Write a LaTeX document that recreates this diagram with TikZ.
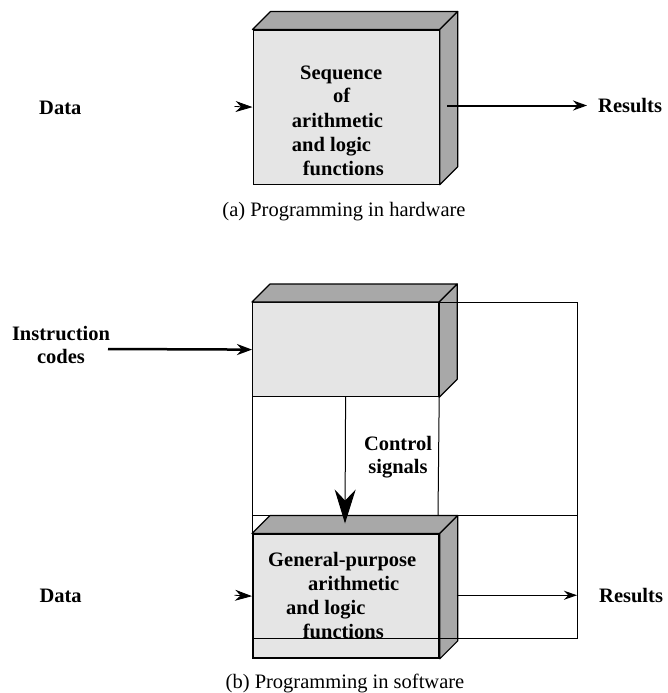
\documentclass[tikz,border=0pt]{standalone}
\usepackage{fontspec}
\setmainfont{Liberation Serif}
\usetikzlibrary{arrows.meta}
\definecolor{frontgray}{gray}{0.9}
\definecolor{sidegray}{gray}{0.66}
\newcommand\mystack[2]{\begin{tabular}[t]{@{}#1@{}}#2\end{tabular}}
\newcommand\boxfaces[1]{%
  \filldraw[face] (#1.north west) -- ++(18,-18) -- ([shift={(18,-18)}]#1.north east) -- (#1.north east) -- cycle;
  \filldraw[face] (#1.north east) -- ++(18,-18) -- ([shift={(18,-18)}]#1.south east) -- (#1.south east) -- cycle;}
\begin{document}
\begin{tikzpicture}[x=1pt,y=-1pt,
  front/.style={draw, fill=frontgray, line width=1.2pt, minimum width=186pt, inner sep=0pt, anchor=north west},
  face/.style={fill=sidegray, draw, line width=1.2pt, line join=round},
  lbl/.style={inner sep=0pt, font=\fontsize{20.5}{24}\selectfont\bfseries},
  lbltwo/.style={inner sep=0pt, font=\fontsize{20.5}{23}\selectfont\bfseries},
  captext/.style={inner sep=0pt, anchor=base, font=\fontsize{20.5}{24}\selectfont},
  thinline/.style={line width=1pt},
  smallhead/.style={-{Stealth[length=17pt,width=11pt]}, line width=0.8pt}
]
\useasboundingbox (0,0) rectangle (668,693);

% ---------- (a) ----------
\node[front, minimum height=154pt] (boxA) at (252.5,29.5) {};
\boxfaces{boxA}
\node[lbl, anchor=base west] (tA) at (291.7,79)
  {\mystack{l}{\hspace*{8.3pt}Sequence\\\hspace*{41.3pt}of\\arithmetic\\and logic\\\hspace*{11pt}functions}};
\node[lbl, anchor=base west] (dataA) at (39,114) {Data};
\coordinate (dAs) at (234.5,106.5);
\draw[smallhead] (dAs) -- (boxA.west);
\coordinate (rAs) at (447,105.5);
\node[lbl, anchor=west, inner xsep=11pt] (resA) at (587,105.5) {Results};
\draw[line width=2pt, -{Stealth[length=14pt,width=10pt]}] (rAs) -- (resA.west);
\node[captext] (capA) at (344,216) {(a) Programming in hardware};

% ---------- (b) ----------
\node[front, minimum height=94pt] (boxB1) at (252,302) {};
\boxfaces{boxB1}
\node[front, minimum height=123.5pt, line width=1.8pt] (boxB2) at (252,533.5) {};
\boxfaces{boxB2}
\node[lbl, anchor=base west] (tB) at (268,566.7)
  {\mystack{l}{General-purpose\\\hspace*{40pt}arithmetic\\\hspace*{18pt}and logic\\\hspace*{34.7pt}functions}};

\node[lbltwo, anchor=base] (instr) at (61,340) {\mystack{c}{Instruction\\codes}};
\coordinate (icS) at (108,349);
\draw[line width=2.5pt, -{Stealth[length=15pt,width=11pt]}] (icS) -- (boxB1.west);

\node[lbltwo, anchor=base] (ctrl) at (398,450) {\mystack{c}{Control\\signals}};

\coordinate (fTR) at (577,302);
\coordinate (fMR) at (577,515.5);
\coordinate (fML) at (252,515.5);
\coordinate (fMC) at (438,515.5);
\coordinate (fBR) at (577,638);
\coordinate (fBL) at (252,638);
\draw[thinline] (boxB1.north east) -- (fTR) -- (fBR) -- (fBL);
\draw[thinline] (fML) -- (fMR);
\draw[thinline] (boxB1.south west) -- (boxB2.north west);
\draw[thinline] (boxB1.south east) -- (fMC);
\coordinate (ctE) at (345,523.5);
\draw[thinline, -{Stealth[length=34pt,width=21pt]}] (boxB1.south) -- (ctE);

\node[lbl, anchor=base west] (dataB) at (39.3,602.7) {Data};
\coordinate (dBs) at (234.5,595.25);
\draw[smallhead] (dBs) -- (boxB2.west);
\node[lbl, anchor=west, inner xsep=22pt] (resB) at (577,595.25) {Results};
\coordinate (rBs) at (456.5,595.25);
\draw[thinline, -{Stealth[length=13pt,width=9pt]}] (rBs) -- (resB.west);

\node[captext] (capB) at (345,688) {(b) Programming in software};
\end{tikzpicture}
\end{document}
